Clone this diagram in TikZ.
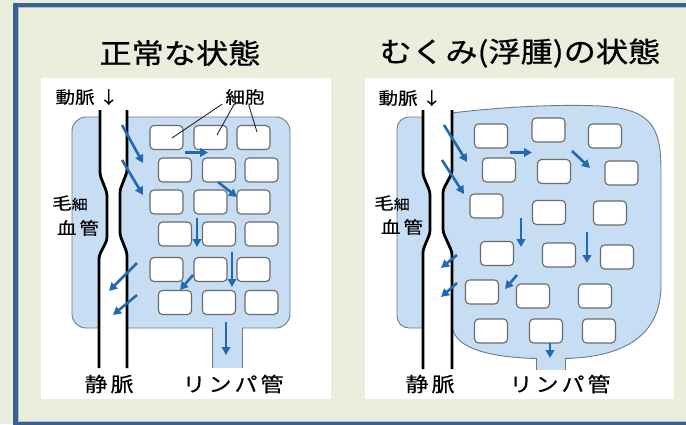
\documentclass[tikz,border=0pt]{standalone}
\usepackage{fontspec}
\usetikzlibrary{arrows.meta}
\newfontfamily\jp[FakeStretch=1.15, FakeBold=0.3]{Noto Sans CJK JP}
\newfontfamily\jphead[FakeStretch=1.15, FakeBold=0.6]{Noto Sans CJK JP}

\definecolor{paper}{HTML}{EAEEDD}
\definecolor{framebl}{HTML}{3C6190}
\definecolor{framehl}{HTML}{A9BDD0}
\definecolor{fluid}{HTML}{C6DDF3}
\definecolor{fluidedge}{HTML}{6E7A86}
\definecolor{flow}{HTML}{1F6AB3}
\definecolor{celledge}{HTML}{6A6A6A}

\tikzset{
  tissue/.style={fill=fluid, draw=fluidedge, line width=0.9pt},
  cellbox/.style={draw=celledge, fill=white, line width=1.1pt, rounded corners=4pt,
                  minimum width=33pt, minimum height=24pt, inner sep=0pt},
  vessel/.style={draw=black, line width=2.8pt, rounded corners=3pt},
  flowarrow/.style={draw=flow, line width=2.6pt, -{Triangle[length=8pt,width=8.5pt]}},
  leader/.style={draw=black!85, line width=0.9pt},
  title/.style={font=\jphead\fontsize{28pt}{32pt}\selectfont, inner sep=0pt},
  lbl/.style={font=\jp\fontsize{17pt}{20pt}\selectfont, inner sep=0pt},
  biglbl/.style={font=\jp\fontsize{20pt}{24pt}\selectfont, inner sep=0pt},
}

\begin{document}
\begin{tikzpicture}[x=1pt,y=-1pt]
\useasboundingbox (0,0) rectangle (686,424);
\clip (0,0) rectangle (686,424);

% background and frame
\fill[paper] (0,0) rectangle (686,424);
\draw[framehl, line width=0.8pt] (18.8,7.8) rectangle (700,421.6);
\draw[framebl, line width=4.5pt] (15.5,5) rectangle (700,424.5);

% headings
\node[title] (tnormal) at (180,53) {正常な状態};
\node[title] (tedema) at (520,53) {むくみ(浮腫)の状態};

% white panels
\fill[white] (41,78) rectangle (331,399);
\fill[white] (365,78) rectangle (674,399);

% ---------- normal tissue ----------
\draw[tissue, rounded corners=14pt] (72,117) rectangle (290,328);
\fill[fluid] (212.5,322) rectangle (241.5,368);
\draw[fluidedge, line width=0.9pt] (212,328) -- (212,368) (242,328) -- (242,368);

% capillary
\fill[white] (100,110) -- (100,175) -- (107,193) -- (107,240) -- (99,256) -- (99,368)
  -- (127,368) -- (127,253) -- (120,235) -- (120,190) -- (127,172) -- (127,110) -- cycle;
\draw[vessel] (100,110) -- (100,175) -- (107,193) -- (107,240) -- (99,256) -- (99,368);
\draw[vessel] (127,110) -- (127,172) -- (120,190) -- (120,235) -- (127,253) -- (127,368);

% cells
\foreach \x/\y/\n in {166.5/137.5/L11, 210.5/137.5/L12, 253.5/137.5/L13,
                      175/170/L21, 219/170/L22, 261.5/170/L23,
                      166.5/202/L31, 210.5/202/L32, 253.5/202/L33,
                      175/234/L41, 219/234/L42, 261.5/234/L43,
                      166.5/269.5/L51, 210.5/269.5/L52, 253.5/269.5/L53,
                      175/302.5/L61, 219/302.5/L62, 261.5/302.5/L63}
  \node[cellbox] (\n) at (\x,\y) {};

% flow
\draw[flowarrow] (122,125) -- (143,163);
\draw[flowarrow] (122,160) -- (143,195);
\draw[flowarrow] (185,152.5) -- (208,152.5);
\draw[flowarrow] (218,182) -- (237,197);
\draw[flowarrow] (197,218) -- (197,247);
\draw[flowarrow] (232,252) -- (232,287);
\draw[flowarrow] (193,275) -- (180,290);
\draw[flowarrow] (137,263) -- (109,291);
\draw[flowarrow] (137,295) -- (113,315);
\draw[flowarrow] (226,322) -- (226,355);

% labels
\node[lbl] (artL) at (87,97) {動脈 ↓};
\node[lbl] (cellL) at (245,97) {細胞};
\coordinate (cA) at (172,138);
\coordinate (cB) at (217,135);
\coordinate (cC) at (257,132);
\draw[leader] (cellL.south west) ++(-3,-1) coordinate (lA) -- (cA);
\draw[leader] (cellL.south west) ++(9,-1) coordinate (lB) -- (cB);
\draw[leader] (cellL.south east) ++(-16,0) coordinate (lC) -- (cC);
\node[lbl] (capL1) at (70,203) {毛{\fontsize{14pt}{16pt}\selectfont 細}};
\node[lbl] (capL2) at (78,228) {血\hspace{3pt}管};
\node[biglbl] (veinL) at (109,384) {静\hspace{3pt}脈};
\node[biglbl] (lymL) at (233,384) {リ\hspace{3pt}ン\hspace{3pt}パ\hspace{3pt}管};

% ---------- swollen tissue ----------
\draw[tissue, rounded corners=12pt] (397,117) rectangle (436,328);
\draw[tissue] (440,113) -- (452,113)
  .. controls (500,107) and (560,104) .. (600,106)
  .. controls (650,109) and (661,125) .. (661,170)
  -- (661,285)
  .. controls (661,335) and (625,357) .. (565,358.5)
  -- (536,358.5)
  .. controls (480,357) and (453,345) .. (452,325)
  -- (440,325) -- cycle;
\fill[fluid] (536.5,354) rectangle (564.5,370);
\draw[fluidedge, line width=0.9pt] (536,358.5) -- (536,370) (565,358.5) -- (565,370);

% capillary
\fill[white] (423,110) -- (423,175) -- (430,192) -- (430,233) -- (423,250) -- (423,369)
  -- (452,369) -- (452,252) -- (443,232) -- (443,190) -- (452,173) -- (452,110) -- cycle;
\draw[vessel] (423,110) -- (423,175) -- (430,192) -- (430,233) -- (423,250) -- (423,369);
\draw[vessel] (452,110) -- (452,173) -- (443,190) -- (443,232) -- (452,252) -- (452,369);

% cells
\foreach \x/\y/\n in {491/136/R11, 548.5/130/R12, 605/136/R13,
                      499/170/R21, 554/171.5/R22, 621.5/173/R23,
                      486.5/206/R31, 549/212.5/R32, 610/213/R33,
                      497/253.5/R41, 559/255/R42, 617/257/R43,
                      482/292/R51, 533/296/R52, 595/296/R53,
                      491/331/R61, 546/331/R62, 599/331/R63}
  \node[cellbox] (\n) at (\x,\y) {};

% flow
\draw[flowarrow] (444,125) -- (467,162);
\draw[flowarrow] (442,160) -- (464,194);
\draw[flowarrow] (510,152.5) -- (532,152.5);
\draw[flowarrow] (572,151) -- (590,168);
\draw[flowarrow] (521,218) -- (521,247);
\draw[flowarrow] (587,232) -- (587,263);
\draw[flowarrow] (517,275) -- (505,289);
\draw[flowarrow] (457,255) -- (441,268);
\draw[flowarrow] (457,283) -- (441,297);
\draw[flowarrow] (550,343) -- (550,358);

% labels
\node[lbl] (artR) at (410,98) {動脈 ↓};
\node[lbl] (capR1) at (392,203) {毛{\fontsize{14pt}{16pt}\selectfont 細}};
\node[lbl] (capR2) at (402,227) {血\hspace{3pt}管};
\node[biglbl] (veinR) at (430,384) {静\hspace{3pt}脈};
\node[biglbl] (lymR) at (560,384) {リ\hspace{3pt}ン\hspace{3pt}パ\hspace{3pt}管};
\end{tikzpicture}
\end{document}
